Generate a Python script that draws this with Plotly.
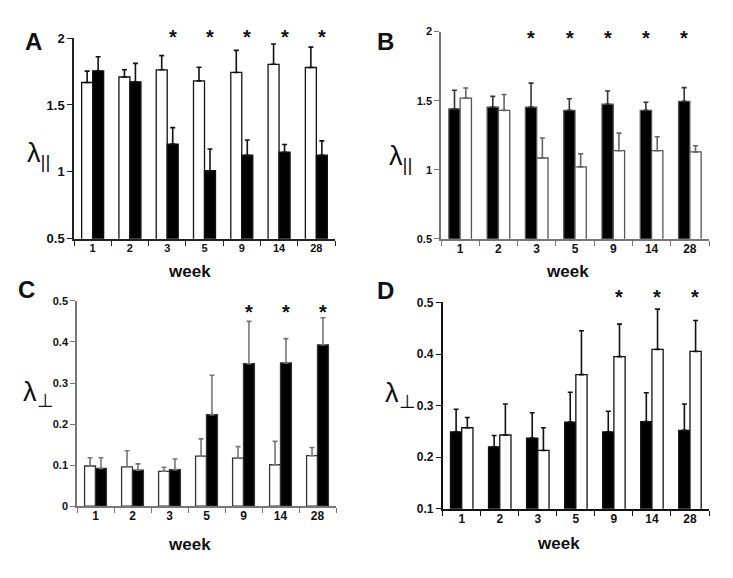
import plotly.graph_objects as go

# The page body keeps the browser's default 8px margin, so the figure is drawn
# 8px in from the window edge; size and place everything to match the window.
WIN_W, WIN_H = 733, 578
OFF = 8
FW, FH = WIN_W - 2 * OFF, WIN_H - 2 * OFF

# ---------------- data ----------------
weeks = ["1", "2", "3", "5", "9", "14", "28"]

# Panel A (lambda parallel)
A_white = [1.668, 1.709, 1.763, 1.680, 1.743, 1.804, 1.780]
A_white_err = [0.085, 0.054, 0.106, 0.102, 0.165, 0.152, 0.152]
A_black = [1.755, 1.673, 1.208, 1.009, 1.125, 1.147, 1.125]
A_black_err = [0.105, 0.138, 0.123, 0.162, 0.114, 0.058, 0.107]
A_sig = [False, False, True, True, True, True, True]

# Panel B (lambda parallel)
B_black = [1.441, 1.453, 1.453, 1.430, 1.474, 1.430, 1.495]
B_black_err = [0.134, 0.078, 0.174, 0.084, 0.096, 0.058, 0.099]
B_white = [1.519, 1.430, 1.085, 1.021, 1.138, 1.138, 1.129]
B_white_err = [0.073, 0.115, 0.145, 0.094, 0.127, 0.101, 0.045]
B_sig = [False, False, True, True, True, True, True]

# Panel C (lambda perpendicular)
C_white = [0.098, 0.096, 0.085, 0.122, 0.117, 0.101, 0.123]
C_white_err = [0.020, 0.039, 0.010, 0.042, 0.028, 0.057, 0.020]
C_black = [0.092, 0.088, 0.089, 0.223, 0.347, 0.349, 0.393]
C_black_err = [0.026, 0.015, 0.026, 0.096, 0.103, 0.059, 0.066]
C_sig = [False, False, False, False, True, True, True]

# Panel D (lambda perpendicular)
D_black = [0.249, 0.220, 0.237, 0.268, 0.249, 0.269, 0.252]
D_black_err = [0.044, 0.022, 0.049, 0.058, 0.040, 0.056, 0.051]
D_white = [0.257, 0.243, 0.213, 0.360, 0.395, 0.409, 0.405]
D_white_err = [0.020, 0.060, 0.044, 0.085, 0.063, 0.078, 0.060]
D_sig = [False, False, False, False, True, True, True]

A_ticks = [0.5, 1, 1.5, 2]
A_ticktext = ["0.5", "1", "1.5", "2"]
C_ticks = [0, 0.1, 0.2, 0.3, 0.4, 0.5]
C_ticktext = ["0", "0.1", "0.2", "0.3", "0.4", "0.5"]
D_ticks = [0.1, 0.2, 0.3, 0.4, 0.5]
D_ticktext = ["0.1", "0.2", "0.3", "0.4", "0.5"]

FONT = "Liberation Sans, Arial, sans-serif"


def fx(px):
    return (px - OFF) / FW


def fy(py):
    return 1 - (py - OFF) / FH


panels = [
    dict(letter="A", label="λ<sub>||</sub>",
         series=[(A_white, A_white_err, "white"), (A_black, A_black_err, "black")],
         sig=A_sig, sig_idx=1, yr=[0.5, 2], tv=A_ticks, tt=A_ticktext,
         left=74, right=335, top=31.7, bottom=238,
         axcol="#222222", errcol=["#111111", "#111111"], outline="#111111",
         ytf=13, xtf=11, letter_xy=(33, 35.5), label_xy=(38, 152), week_xy=(189, 273),
         star_px=29),
    dict(letter="B", label="λ<sub>||</sub>",
         series=[(B_black, B_black_err, "black"), (B_white, B_white_err, "white")],
         sig=B_sig, sig_idx=0, yr=[0.5, 2], tv=A_ticks, tt=A_ticktext,
         left=441, right=709, top=25, bottom=238,
         axcol="#777777", errcol=["#333333", "#666666"], outline="#555555",
         ytf=11, xtf=12, letter_xy=(385.5, 35), label_xy=(400, 155), week_xy=(567, 273),
         star_px=29),
    dict(letter="C", label="λ<sub>⊥</sub>",
         series=[(C_white, C_white_err, "white"), (C_black, C_black_err, "black")],
         sig=C_sig, sig_idx=1, yr=[0, 0.5], tv=C_ticks, tt=C_ticktext,
         left=77, right=336, top=301.7, bottom=512.7,
         axcol="#777777", errcol=["#777777", "#777777"], outline="#333333",
         ytf=11, xtf=12, letter_xy=(26, 290.5), label_xy=(38, 397), week_xy=(189, 553),
         star_px=310.7),
    dict(letter="D", label="λ<sub>⊥</sub>",
         series=[(D_black, D_black_err, "black"), (D_white, D_white_err, "white")],
         sig=D_sig, sig_idx=1, yr=[0.1, 0.5], tv=D_ticks, tt=D_ticktext,
         left=442.7, right=709, top=303.3, bottom=515.3,
         axcol="#111111", errcol=["#111111", "#111111"], outline="#111111",
         ytf=12, xtf=12, letter_xy=(385.5, 291), label_xy=(400, 398), week_xy=(558, 552),
         star_px=296),
]

STAR_GLYPH_OFFSET = -2  # '*' glyph centre relative to annotation box centre (px, +down)

fig = go.Figure()
annotations = []

for i, p in enumerate(panels):
    n = "" if i == 0 else str(i + 1)
    xa, ya = "x" + n, "y" + n
    for j, (vals, errs, col) in enumerate(p["series"]):
        fig.add_trace(go.Bar(
            x=weeks, y=vals, xaxis=xa, yaxis=ya,
            marker=dict(color=col, line=dict(color=p["outline"], width=1.3)),
            error_y=dict(type="data", symmetric=False, array=errs,
                         arrayminus=[0] * len(errs), color=p["errcol"][j],
                         thickness=1.6, width=2.5),
            showlegend=False,
        ))
    axis_common = dict(showline=True, linecolor=p["axcol"], linewidth=1.5,
                       ticks="outside", ticklen=5, tickcolor=p["axcol"], tickwidth=1.3,
                       showgrid=False, zeroline=False)
    fig.layout["xaxis" + n] = dict(
        domain=[fx(p["left"]), fx(p["right"])], anchor=ya, type="category",
        range=[-0.5, 6.5], tickson="boundaries", ticklabelstandoff=-2,
        tickfont=dict(family=FONT, size=p["xtf"], color="#111111", weight="bold"),
        **axis_common)
    fig.layout["yaxis" + n] = dict(
        domain=[fy(p["bottom"]), fy(p["top"])], anchor=xa, range=p["yr"],
        tickvals=p["tv"], ticktext=p["tt"],
        tickfont=dict(family=FONT, size=p["ytf"], color="#111111", weight="bold"),
        **axis_common)

    # significance stars (x given as category index)
    shift = -5.5 if p["sig_idx"] == 0 else 5.5
    yshift = p["top"] - p["star_px"] + STAR_GLYPH_OFFSET
    for k, s in enumerate(p["sig"]):
        if s:
            annotations.append(dict(
                x=k, xref=xa, y=1, yref=ya + " domain", xshift=shift, yshift=yshift,
                text="*", showarrow=False, yanchor="middle",
                font=dict(family=FONT, size=20, color="#111111", weight="bold")))

    lx, ly = p["letter_xy"]
    annotations.append(dict(x=fx(lx), y=fy(ly), xref="paper", yref="paper",
                            text=p["letter"], showarrow=False,
                            xanchor="center", yanchor="middle",
                            font=dict(family=FONT, size=24, color="#111111", weight="bold")))
    bx, by = p["label_xy"]
    annotations.append(dict(x=fx(bx), y=fy(by), xref="paper", yref="paper",
                            text=p["label"], showarrow=False,
                            xanchor="center", yanchor="middle",
                            font=dict(family=FONT, size=27, color="#111111")))
    wx, wy = p["week_xy"]
    annotations.append(dict(x=fx(wx), y=fy(wy - 1), xref="paper", yref="paper",
                            text="week", showarrow=False,
                            xanchor="center", yanchor="middle",
                            font=dict(family=FONT, size=17, color="#111111", weight="bold")))

fig.update_layout(
    width=FW, height=FH, margin=dict(l=0, r=0, t=0, b=0),
    paper_bgcolor="white", plot_bgcolor="white",
    barmode="group", bargap=0.41, bargroupgap=0,
    showlegend=False, annotations=annotations,
)

fig.write_html("out.html")
